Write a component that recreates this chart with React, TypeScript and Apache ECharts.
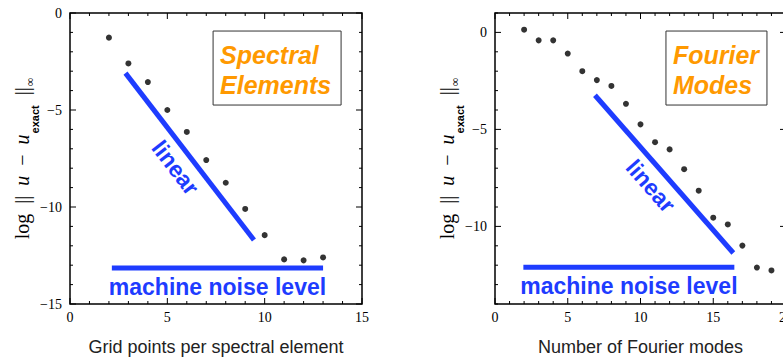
import { useEffect, useRef } from 'react';
import * as echarts from 'echarts';

// Spectral elements panel
const seX = [2, 3, 4, 5, 6, 7, 8, 9, 10, 11, 12, 13];
const seY = [-1.27, -2.6, -3.56, -5.0, -6.13, -7.58, -8.75, -10.1, -11.45, -12.7, -12.75, -12.6];
const seLinear = [[2.85, -3.1], [9.45, -11.7]];
const seNoise = [[2.15, -13.15], [13.0, -13.15]];

// Fourier modes panel
const fmX = [2, 3, 4, 5, 6, 7, 8, 9, 10, 11, 12, 13, 14, 15, 16, 17, 18, 19];
const fmY = [0.14, -0.41, -0.41, -1.09, -2.0, -2.46, -2.76, -3.68, -4.74, -5.66, -6.03, -7.05, -8.16, -9.55, -9.9, -10.99, -12.12, -12.27];
const fmLinear = [[6.87, -3.24], [16.38, -11.37]];
const fmNoise = [[1.95, -12.1], [16.45, -12.1]];

const seXRange = [0, 15];
const seYRange = [-15, 0];
const fmXRange = [0, 20];
const fmYRange = [-14, 1];

const xNames = ['Grid points per spectral element', 'Number of Fourier modes'];
const boxTexts = ['Spectral\nElements', 'Fourier\nModes'];
const lineLabels = ['linear', 'machine noise level'];
const yNameRich = '{n|log  ||  }{i|u}{n|  \u2212  }{i|u}{s|exact}{n|  ||}{t|\u221e}';

const BLUE = '#1e3cff';
const ORANGE = '#ff9900';
const SERIF = '"Liberation Serif", "DejaVu Serif", serif';
const SANS = '"Liberation Sans", Arial, Helvetica, sans-serif';

const fmtTick = (v: number) => (v === 0 ? '0' : v < 0 ? '\u2212' + Math.abs(v) : String(v));

type Panel = {
  xs: number[];
  ys: number[];
  lin: number[][];
  noise: number[][];
  xr: number[];
  yr: number[];
  xName: string;
  boxText: string;
  boxAt: number[];
  boxSize: number[];
  grid: any;
};

function buildOption(p: Panel) {
  const { xr, yr } = p;
  const ops: any[] = [{ k: 'frame' }];
  for (let v = xr[0]; v <= xr[1]; v++) ops.push({ k: 'xt', v, major: v % 5 === 0 });
  for (let v = yr[0]; v <= yr[1]; v++) ops.push({ k: 'yt', v, major: v % 5 === 0 });
  for (let v = xr[0]; v <= xr[1]; v++) if (v % 5 === 0) ops.push({ k: 'xl', v });
  for (let v = yr[0]; v <= yr[1]; v++) if (v % 5 === 0) ops.push({ k: 'yl', v });
  ops.push({ k: 'seg', a: p.lin[0], b: p.lin[1], text: lineLabels[0], off: 18 });
  ops.push({ k: 'seg', a: p.noise[0], b: p.noise[1], text: lineLabels[1], off: 19 });
  ops.push({ k: 'xname' });
  ops.push({ k: 'yname' });
  ops.push({ k: 'box' });

  const renderItem = (params: any, api: any) => {
    const op = ops[params.dataIndex];
    const black = (w: number) => ({ stroke: '#000', lineWidth: w, fill: 'none' });
    if (op.k === 'frame') {
      const a = api.coord([xr[0], yr[1]]);
      const b = api.coord([xr[1], yr[0]]);
      return {
        type: 'rect',
        shape: { x: a[0], y: a[1], width: b[0] - a[0], height: b[1] - a[1] },
        style: black(1.5),
      };
    }
    if (op.k === 'xt') {
      const len = op.major ? 6 : 3;
      const b = api.coord([op.v, yr[0]]);
      const t = api.coord([op.v, yr[1]]);
      return {
        type: 'group',
        children: [
          { type: 'line', shape: { x1: b[0], y1: b[1], x2: b[0], y2: b[1] - len }, style: black(1) },
          { type: 'line', shape: { x1: t[0], y1: t[1], x2: t[0], y2: t[1] + len }, style: black(1) },
        ],
      };
    }
    if (op.k === 'yt') {
      const len = op.major ? 6 : 3;
      const l = api.coord([xr[0], op.v]);
      const r = api.coord([xr[1], op.v]);
      return {
        type: 'group',
        children: [
          { type: 'line', shape: { x1: l[0], y1: l[1], x2: l[0] + len, y2: l[1] }, style: black(1) },
          { type: 'line', shape: { x1: r[0], y1: r[1], x2: r[0] - len, y2: r[1] }, style: black(1) },
        ],
      };
    }
    if (op.k === 'xl') {
      const q = api.coord([op.v, yr[0]]);
      return {
        type: 'text',
        x: q[0],
        y: q[1] + 6,
        style: { text: fmtTick(op.v), fontFamily: SERIF, fontSize: 14, fill: '#000', align: 'center', verticalAlign: 'top' },
      };
    }
    if (op.k === 'yl') {
      const q = api.coord([xr[0], op.v]);
      return {
        type: 'text',
        x: q[0] - 8,
        y: q[1],
        style: { text: fmtTick(op.v), fontFamily: SERIF, fontSize: 14, fill: '#000', align: 'right', verticalAlign: 'middle' },
      };
    }
    if (op.k === 'seg') {
      const a = api.coord(op.a);
      const b = api.coord(op.b);
      const th = Math.atan2(b[1] - a[1], b[0] - a[0]);
      const mx = (a[0] + b[0]) / 2;
      const my = (a[1] + b[1]) / 2;
      const nx = -Math.sin(th);
      const ny = Math.cos(th);
      return {
        type: 'group',
        children: [
          {
            type: 'line',
            shape: { x1: a[0], y1: a[1], x2: b[0], y2: b[1] },
            style: { stroke: BLUE, lineWidth: 5, fill: 'none' },
          },
          {
            type: 'text',
            x: mx + op.off * nx,
            y: my + op.off * ny,
            rotation: -th,
            style: {
              text: op.text,
              fontFamily: SANS,
              fontWeight: 'bold',
              fontSize: 23,
              fill: BLUE,
              align: 'center',
              verticalAlign: 'middle',
            },
          },
        ],
      };
    }
    if (op.k === 'xname') {
      const q = api.coord([(xr[0] + xr[1]) / 2, yr[0]]);
      return {
        type: 'text',
        x: q[0],
        y: q[1] + 43,
        style: { text: p.xName, fontFamily: SANS, fontSize: 18, fill: '#222', align: 'center', verticalAlign: 'middle' },
      };
    }
    if (op.k === 'yname') {
      const q = api.coord([xr[0], (yr[0] + yr[1]) / 2]);
      return {
        type: 'text',
        x: q[0] - 48,
        y: q[1],
        rotation: Math.PI / 2,
        style: {
          text: yNameRich,
          align: 'center',
          verticalAlign: 'middle',
          rich: {
            n: { fontFamily: SERIF, fontSize: 20, lineHeight: 20, fill: '#000', verticalAlign: 'top' },
            i: { fontFamily: SERIF, fontStyle: 'italic', fontSize: 20, lineHeight: 20, fill: '#000', verticalAlign: 'top' },
            s: { fontFamily: SANS, fontWeight: 'bold', fontSize: 11, lineHeight: 11, fill: '#000', verticalAlign: 'top', padding: [17, 0, 0, 1] },
            t: { fontFamily: SERIF, fontSize: 12, lineHeight: 12, fill: '#000', verticalAlign: 'top', padding: [12, 0, 0, 1] },
          },
        },
      };
    }
    // box
    const q = api.coord(p.boxAt);
    return {
      type: 'group',
      children: [
        {
          type: 'rect',
          shape: { x: q[0], y: q[1], width: p.boxSize[0], height: p.boxSize[1] },
          style: { fill: '#fff', stroke: '#333', lineWidth: 1 },
        },
        {
          type: 'text',
          x: q[0] + 7,
          y: q[1] + 9,
          style: {
            text: p.boxText,
            fontFamily: SANS,
            fontStyle: 'italic',
            fontWeight: 'bold',
            fontSize: 25,
            lineHeight: 30,
            fill: ORANGE,
            align: 'left',
            verticalAlign: 'top',
          },
        },
      ],
    };
  };

  return {
    animation: false,
    grid: [p.grid],
    xAxis: [{ type: 'value', min: xr[0], max: xr[1], show: false, splitLine: { show: false } }],
    yAxis: [{ type: 'value', min: yr[0], max: yr[1], show: false, splitLine: { show: false } }],
    series: [
      {
        type: 'custom',
        silent: true,
        clip: false,
        z: 10,
        data: ops.map(() => [xr[0], yr[0]]),
        renderItem,
      },
      {
        type: 'scatter',
        symbol: 'circle',
        symbolSize: 6,
        itemStyle: { color: '#000' },
        z: 12,
        data: p.xs.map((x, i) => [x, p.ys[i]]),
      },
    ],
  };
}

const panels: Panel[] = [
  {
    xs: seX, ys: seY, lin: seLinear, noise: seNoise, xr: seXRange, yr: seYRange,
    xName: xNames[0], boxText: boxTexts[0], boxAt: [7.35, -0.93], boxSize: [128, 74],
    grid: { left: 70, top: 13, width: 292, height: 291, outerBoundsMode: 'none' },
  },
  {
    xs: fmX, ys: fmY, lin: fmLinear, noise: fmNoise, xr: fmXRange, yr: fmYRange,
    xName: xNames[1], boxText: boxTexts[1], boxAt: [11.75, 0.07], boxSize: [101, 74],
    grid: { left: 95, top: 13, width: 291, height: 291, outerBoundsMode: 'none' },
  },
];

export default function App() {
  const leftRef = useRef<HTMLDivElement>(null);
  const rightRef = useRef<HTMLDivElement>(null);
  useEffect(() => {
    if (!leftRef.current || !rightRef.current) return;
    const c1 = echarts.init(leftRef.current, undefined, { renderer: 'svg' });
    const c2 = echarts.init(rightRef.current, undefined, { renderer: 'svg' });
    c1.setOption(buildOption(panels[0]) as any);
    c2.setOption(buildOption(panels[1]) as any);
    return () => {
      c1.dispose();
      c2.dispose();
    };
  }, []);
  return (
    <div style={{ position: 'fixed', left: 0, top: 0, width: 783, height: 358, background: '#fff', overflow: 'hidden' }}>
      <div ref={leftRef} style={{ position: 'absolute', left: 0, top: 0, width: 400, height: 358 }} />
      <div ref={rightRef} style={{ position: 'absolute', left: 400, top: 0, width: 383, height: 358 }} />
    </div>
  );
}
